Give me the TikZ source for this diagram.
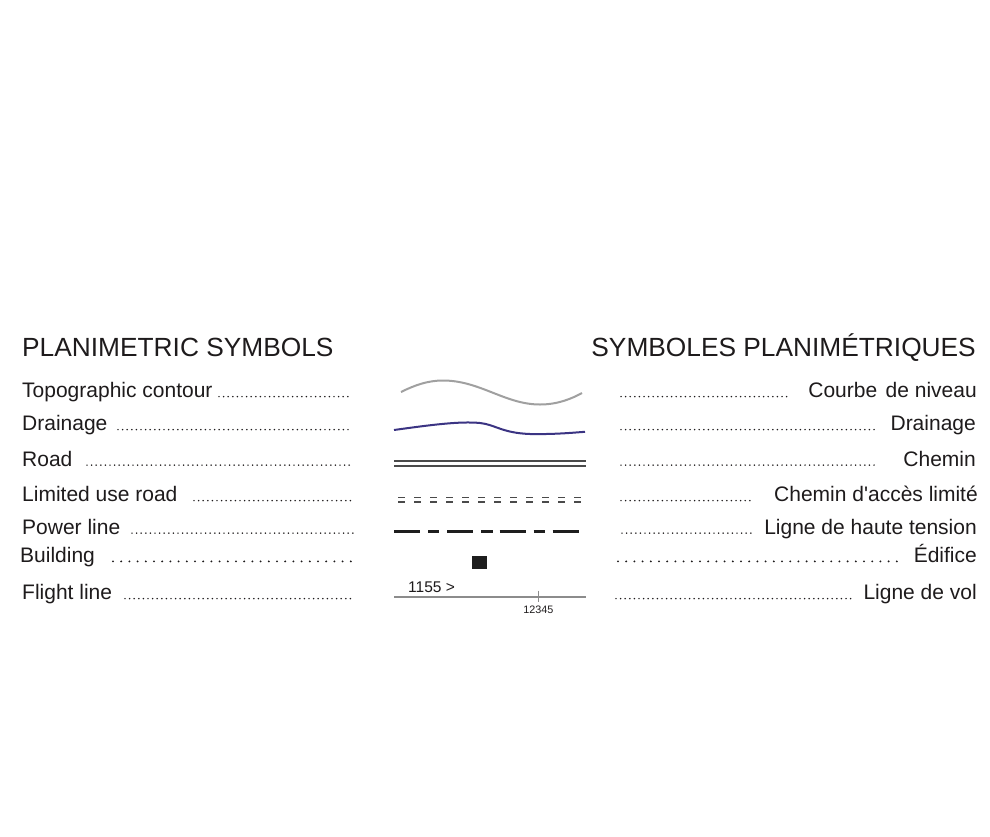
\documentclass[tikz,border=0pt]{standalone}
\usepackage{fontspec}
\setmainfont{Liberation Sans}
\begin{document}
\begin{tikzpicture}[x=1pt,y=-1pt,
  ink/.style={text=textgray},
  head/.style={ink,inner sep=0pt,font=\fontsize{26.3}{30}\selectfont},
  lbl/.style={ink,inner sep=0pt,font=\fontsize{21}{25}\selectfont},
  leader/.style={draw=textgray,line width=1.7pt,line cap=round,dash pattern=on 0pt off 4.6pt},
  wideleader/.style={draw=textgray,line width=2.1pt,line cap=round,dash pattern=on 0pt off 8.2pt},
  contour/.style={draw=contourgray,line width=2pt},
  drain/.style={draw=drainblue,line width=2pt},
  roadline/.style={draw=roadgray,line width=1.6pt},
  limline/.style={draw=roadgray,line width=1.6pt},
  powerline/.style={draw=powerblack,line width=2.6pt},
  flight/.style={draw=flightgray,line width=1.2pt},
]
\definecolor{textgray}{HTML}{1E1B1C}
\definecolor{contourgray}{HTML}{A0A0A0}
\definecolor{drainblue}{HTML}{3B3483}
\definecolor{roadgray}{HTML}{4A4A4A}
\definecolor{powerblack}{HTML}{1E1E1E}
\definecolor{flightgray}{HTML}{8C8C8C}

\useasboundingbox[fill=white] (0,0) rectangle (990,836);

% headings
\node[head,anchor=base west] (hL) at (22,356) {PLANIMETRIC SYMBOLS};
\node[head,anchor=base east] (hR) at (976,356) {SYMBOLES PLANIMÉTRIQUES};

% English labels
\node[lbl,anchor=base west] (eTopo)  at (22,397.5) {Topographic contour};
\node[lbl,anchor=base west] (eDrain) at (22,430.5) {Drainage};
\node[lbl,anchor=base west] (eRoad)  at (22,466)   {Road};
\node[lbl,anchor=base west] (eLim)   at (22,501.5) {Limited use road};
\node[lbl,anchor=base west] (ePow)   at (22,534)   {Power line};
\node[lbl,anchor=base west] (eBld)   at (20,562.5) {Building};
\node[lbl,anchor=base west] (eFli)   at (22,599.5) {Flight line};

% French labels
\node[lbl,anchor=base east] (fTopo)  at (977,397.5) {Courbe\hspace{8.5pt}de niveau};
\node[lbl,anchor=base east] (fDrain) at (976,430.5) {Drainage};
\node[lbl,anchor=base east] (fRoad)  at (976,466)   {Chemin};
\node[lbl,anchor=base east] (fLim)   at (978,501.5) {Chemin d\textquotesingle accès limité};
\node[lbl,anchor=base east] (fPow)   at (977,534)   {Ligne de haute tension};
\node[lbl,anchor=base east] (fBld)   at (977,562.5) {Édifice};
\node[lbl,anchor=base east] (fFli)   at (977,599.5) {Ligne de vol};

% dotted leaders, left column
\coordinate (lTopoA) at (219,396.6); \coordinate (lTopoB) at (352,396.6);
\coordinate (lDrainA) at (118,429.6); \coordinate (lDrainB) at (352,429.6);
\coordinate (lRoadA) at (87,465.1);  \coordinate (lRoadB) at (352,465.1);
\coordinate (lLimA) at (194,500.6);  \coordinate (lLimB) at (352,500.6);
\coordinate (lPowA) at (132,533.1);  \coordinate (lPowB) at (353,533.1);
\coordinate (lBldA) at (113,561.4);  \coordinate (lBldB) at (351,561.4);
\coordinate (lFliA) at (125,598.6);  \coordinate (lFliB) at (352,598.6);
\draw[leader] (lTopoA) -- (lTopoB);
\draw[leader] (lDrainA) -- (lDrainB);
\draw[leader] (lRoadA) -- (lRoadB);
\draw[leader] (lLimA) -- (lLimB);
\draw[leader] (lPowA) -- (lPowB);
\draw[wideleader] (lBldA) -- (lBldB);
\draw[leader] (lFliA) -- (lFliB);

% dotted leaders, right column
\coordinate (rTopoA) at (621,396.6); \coordinate (rTopoB) at (789,396.6);
\coordinate (rDrainA) at (621,429.6); \coordinate (rDrainB) at (878,429.6);
\coordinate (rRoadA) at (621,465.1); \coordinate (rRoadB) at (878,465.1);
\coordinate (rLimA) at (621,500.6);  \coordinate (rLimB) at (754,500.6);
\coordinate (rPowA) at (622,533.1);  \coordinate (rPowB) at (754,533.1);
\coordinate (rBldA) at (618,561.4);  \coordinate (rBldB) at (904,561.4);
\coordinate (rFliA) at (616,598.6);  \coordinate (rFliB) at (855,598.6);
\draw[leader] (rTopoA) -- (rTopoB);
\draw[leader] (rDrainA) -- (rDrainB);
\draw[leader] (rRoadA) -- (rRoadB);
\draw[leader] (rLimA) -- (rLimB);
\draw[leader] (rPowA) -- (rPowB);
\draw[wideleader] (rBldA) -- (rBldB);
\draw[leader] (rFliA) -- (rFliB);

% topographic contour
\draw[contour] (401,392) .. controls (415,385) and (428,380.5) .. (443,380.5)
  .. controls (480,380.5) and (505,404.5) .. (540,404.5)
  .. controls (558,404.5) and (572,398.5) .. (582,393);

% drainage
\draw[drain] (394,430) .. controls (430,425) and (460,421) .. (480,423)
  .. controls (495,424.5) and (502,433) .. (530,434)
  .. controls (555,434.5) and (575,432.5) .. (585,431.8);

% road
\draw[roadline] (394,460.8) -- (586,460.8);
\draw[roadline] (394,466) -- (586,466);

% limited use road
\foreach \i in {0,...,11}{
  \draw[limline] ({398.3+16*\i},497.4) -- ++(7,0);
  \draw[limline] ({398.3+16*\i},501.7) -- ++(7,0);
}

% power line
\foreach \a/\b in {394/420,428/438.5,447/473,481/492.5,499.5/526,533.5/544.5,552.5/579}{
  \draw[powerline] (\a,531.7) -- (\b,531.7);
}

% building
\fill[powerblack] (472,556) rectangle (487,569);

% flight line
\coordinate (flA) at (394,597);
\coordinate (flB) at (586,597);
\draw[flight] (flA) -- (flB);
\coordinate (tickT) at (538,590.5);
\coordinate (tickB) at (538,601.5);
\draw[flight,line width=0.9pt] (tickT) -- (tickB);
\node[ink,inner sep=0pt,anchor=base west,font=\fontsize{15.5}{18}\selectfont] (fnum) at (408,592.5) {1155 >};
\node[ink,inner sep=0pt,anchor=base,font=\fontsize{10.8}{13}\selectfont] (pnum) at (538.3,613.5) {12345};
\end{tikzpicture}
\end{document}
